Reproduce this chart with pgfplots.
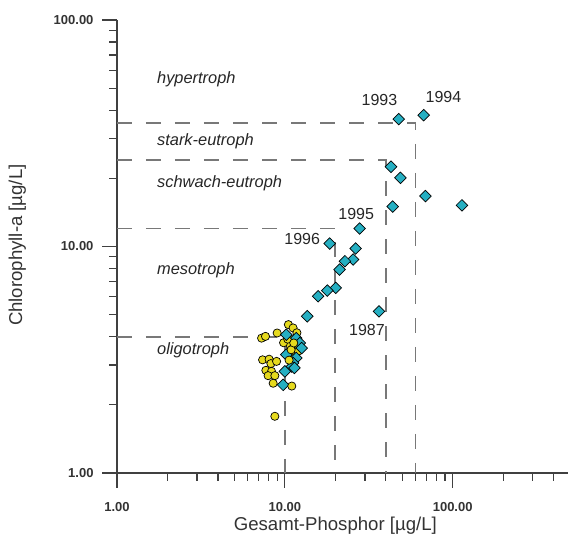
\documentclass[border=0pt]{standalone}
\usepackage{pgfplots}
\pgfplotsset{compat=1.18}
\usepackage{fontspec}
\setmainfont{Liberation Sans}
\definecolor{dia}{HTML}{25AFC2}
\definecolor{circ}{HTML}{E6DA1E}
\definecolor{thr}{HTML}{787878}
\begin{document}
\begin{tikzpicture}
\begin{axis}[
    at={(0,0)}, anchor=south west,
    scale only axis,
    width=453pt, height=453pt,
    xmode=log, ymode=log,
    xmin=1, xmax=500, ymin=1, ymax=100,
    axis lines*=left,
    axis line style={black!75, line width=1.2pt},
    tick style={black!75, line width=1.2pt},
    tick align=outside,
    major tick length=15pt, minor tick length=8pt,
    xtick={1,10,100}, xticklabels={1.00,10.00,100.00},
    ytick={1,10,100}, yticklabels={1.00,10.00,100.00},
    minor xtick={2,3,4,5,6,7,8,9,20,30,40,50,60,70,80,90,200,300,400,500},
    minor ytick={2,3,4,5,6,7,8,9,20,30,40,50,60,70,80,90},
    ticklabel style={font=\bfseries\fontsize{13}{13}\selectfont, text=black!80},
    xticklabel style={yshift=-11pt},
    yticklabel style={xshift=-5pt},
    xlabel={Gesamt-Phosphor [µg/L]},
    ylabel={Chlorophyll-a [µg/L]},
    label style={font=\fontsize{18.6}{20}\selectfont, text=black!80},
    xlabel style={at={(axis description cs:0.482,-0.128)}, anchor=base},
    ylabel style={at={(axis description cs:-0.2097,0.503)}, anchor=base},
    clip=false,
]
% trophic class boundaries
\addplot[thr, line width=1.8pt, dash pattern=on 15pt off 14pt] coordinates {(1,4) (10,4) (10,1)};
\addplot[thr, line width=1.8pt, dash pattern=on 15pt off 14pt] coordinates {(1,12) (20,12) (20,1)};
\addplot[thr, line width=1.8pt, dash pattern=on 15pt off 14pt] coordinates {(1,24) (40,24) (40,1)};
\addplot[thr, line width=1.8pt, dash pattern=on 15pt off 14pt] coordinates {(1,35) (60,35) (60,1)};

% circles
\addplot[only marks, mark=*, mark size=4.1pt,
    mark options={fill=circ, draw=black, line width=0.7pt}] coordinates {
    (7.27,3.94) (7.67,4.01) (9.0,4.15) (10.5,4.52) (11.2,4.37)
    (11.0,3.88) (10.7,3.68) (11.2,3.56) (10.7,3.44) (11.5,3.33)
    (11.2,3.22) (9.83,3.76) (11.8,4.16) (11.9,3.68)
    (10.4,3.90) (12.0,3.45) (10.9,3.10)
    (7.37,3.16) (8.06,3.18) (8.26,3.04) (8.93,3.11) (7.71,2.84)
    (8.33,2.81) (7.95,2.69) (8.72,2.69) (8.52,2.49) (8.72,1.78)
};

% diamonds
\addplot[only marks, mark=square*, mark size=4.1pt,
    mark options={rotate=45, fill=dia, draw=black, line width=0.7pt}] coordinates {
    (47.7,36.5) (67.2,38.0) (42.9,22.5) (48.8,20.1) (68.8,16.7)
    (113.6,15.2) (43.9,15.0) (27.9,12.0) (18.5,10.3) (26.4,9.80)
    (25.5,8.76) (22.8,8.61) (21.2,7.91) (20.1,6.57) (17.9,6.39)
    (15.8,6.03) (13.6,4.92) (36.4,5.17)
    (10.2,4.08) (11.7,3.94) (12.3,3.75) (12.6,3.56) (10.2,3.33)
    (11.7,3.22) (11.2,3.06) (11.0,2.95) (11.4,2.91) (10.0,2.81)
    (9.77,2.45)
};

% a few circles on top inside the cluster
\addplot[only marks, mark=*, mark size=4.1pt,
    mark options={fill=circ, draw=black, line width=0.7pt}] coordinates {
    (10.9,3.50) (11.3,3.75) (10.6,3.15) (11.0,2.42)
};

% class names
\begin{scope}[every node/.style={anchor=base west, inner sep=0pt,
    font=\itshape\fontsize{16.4}{18}\selectfont, text=black!85}]
\node at (axis cs:1.73,52.6) {hypertroph};
\node at (axis cs:1.73,27.8) {stark-eutroph};
\node at (axis cs:1.73,18.2) {schwach-eutroph};
\node at (axis cs:1.73,7.52) {mesotroph};
\node at (axis cs:1.73,3.33) {oligotroph};
\end{scope}

% years
\begin{scope}[every node/.style={anchor=base west, inner sep=0pt,
    font=\fontsize{16}{18}\selectfont, text=black!85}]
\node at (axis cs:28.6,42.1) {1993};
\node at (axis cs:68.8,43.2) {1994};
\node at (axis cs:20.8,13.2) {1995};
\node at (axis cs:9.91,10.2) {1996};
\node at (axis cs:24.1,4.05) {1987};
\end{scope}
\end{axis}
\pgfresetboundingbox
\useasboundingbox (-117pt,-64pt) rectangle (451pt,473pt);
\end{tikzpicture}
\end{document}
